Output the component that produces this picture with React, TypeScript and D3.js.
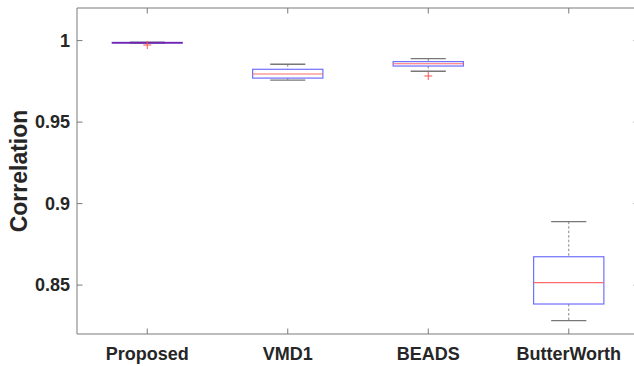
import React from "react";
import * as d3 from "d3";

const categories = ["Proposed", "VMD1", "BEADS", "ButterWorth"];
const lowerWhisker = [0.9983, 0.9758, 0.9812, 0.8282];
const q1 = [0.9985, 0.977, 0.9844, 0.8384];
const median = [0.9987, 0.9795, 0.9858, 0.8515];
const q3 = [0.9989, 0.9824, 0.9871, 0.8674];
const upperWhisker = [0.9991, 0.9855, 0.9889, 0.8889];
const outliers: number[][] = [[0.9973], [], [0.9783], []];
const yTicks = [0.85, 0.9, 0.95, 1];

export default function App() {
  const W = 634, H = 366;
  const left = 77, right = 639, top = 8, bottom = 334;
  const x = d3.scaleLinear().domain([0.5, 4.5]).range([left, right]);
  const y = d3.scaleLinear().domain([0.82, 1.02]).range([bottom, top]);
  const boxHalf = x(1.25) - x(1);
  const capHalf = boxHalf / 2;
  const tickLen = 5.5;
  const axisColor = "#7a7a7a";
  const font = "'Liberation Sans', Arial, Helvetica, sans-serif";

  return (
    <svg width={W} height={H} style={{ position: "absolute", left: 0, top: 0 }}>
      <rect x={0} y={0} width={W} height={H} fill="#fff" />
      {/* axes box */}
      <line x1={left} x2={right} y1={top} y2={top} stroke={axisColor} strokeWidth={1} />
      <line x1={left} x2={right} y1={bottom} y2={bottom} stroke={axisColor} strokeWidth={1} />
      <line x1={left} x2={left} y1={top} y2={bottom} stroke={axisColor} strokeWidth={1} />
      <line x1={right} x2={right} y1={top} y2={bottom} stroke={axisColor} strokeWidth={1} />
      {yTicks.map((t) => (
        <g key={t}>
          <line x1={left} x2={left + tickLen} y1={y(t)} y2={y(t)} stroke={axisColor} />
          <line x1={right} x2={right - tickLen} y1={y(t)} y2={y(t)} stroke={axisColor} />
          <text x={left - 7} y={y(t)} dy="0.35em" textAnchor="end" fontFamily={font}
            fontWeight="bold" fontSize={18} fill="#262626">{String(t)}</text>
        </g>
      ))}
      {categories.map((c, i) => (
        <g key={c}>
          <line x1={x(i + 1)} x2={x(i + 1)} y1={bottom} y2={bottom - tickLen} stroke={axisColor} />
          <line x1={x(i + 1)} x2={x(i + 1)} y1={top} y2={top + tickLen} stroke={axisColor} />
          <text x={x(i + 1)} y={360} textAnchor="middle" fontFamily={font}
            fontWeight="bold" fontSize={18} fill="#262626">{c}</text>
        </g>
      ))}
      <text transform={`translate(27,${(top + bottom) / 2}) rotate(-90)`} textAnchor="middle"
        fontFamily={font} fontWeight="bold" fontSize={23} fill="#262626">Correlation</text>
      {categories.map((c, i) => {
        const cx = x(i + 1);
        return (
          <g key={"b" + c}>
            <line x1={cx} x2={cx} y1={y(upperWhisker[i])} y2={y(q3[i])} stroke="#888"
              strokeDasharray="2.5,2" strokeWidth={1} />
            <line x1={cx} x2={cx} y1={y(q1[i])} y2={y(lowerWhisker[i])} stroke="#888"
              strokeDasharray="2.5,2" strokeWidth={1} />
            <line x1={cx - capHalf} x2={cx + capHalf} y1={y(upperWhisker[i])} y2={y(upperWhisker[i])}
              stroke="#777" strokeWidth={1.3} />
            <line x1={cx - capHalf} x2={cx + capHalf} y1={y(lowerWhisker[i])} y2={y(lowerWhisker[i])}
              stroke="#777" strokeWidth={1.3} />
            <rect x={cx - boxHalf} y={y(q3[i])} width={2 * boxHalf}
              height={Math.max(0.5, y(q1[i]) - y(q3[i]))} fill="none" stroke="#6f6fff" strokeWidth={1.2} />
            <line x1={cx - boxHalf} x2={cx + boxHalf} y1={y(median[i])} y2={y(median[i])}
              stroke={i === 0 ? "#7a1fa8" : "#ff6a6a"} strokeWidth={i === 0 ? 1.6 : 1.2} />
            {outliers[i].map((o, k) => (
              <g key={k}>
                <line x1={cx - 4} x2={cx + 4} y1={y(o)} y2={y(o)} stroke="#ff5050" />
                <line x1={cx} x2={cx} y1={y(o) - 4} y2={y(o) + 4} stroke="#ff5050" />
              </g>
            ))}
          </g>
        );
      })}
    </svg>
  );
}
